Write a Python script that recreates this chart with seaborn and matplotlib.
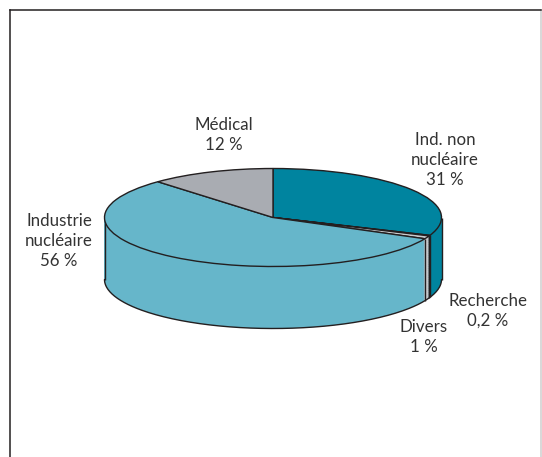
import seaborn as sns
import matplotlib.pyplot as plt
import numpy as np

categories = ['Ind. non\nnucléaire\n31 %', 'Recherche\n0,2 %', 'Divers\n1 %',
              'Industrie\nnucléaire\n56 %', 'Médical\n12 %']
shares = [31, 0.2, 1, 56, 12]
colors = sns.color_palette(['#00849f', '#231f20', '#c9cbce', '#66b6ca', '#a9acb2'])

# pixel layout of the reference
W, H = 542, 457
CX, CY = 273, 217.5
RX, RY = 168.5, 49
DEPTH = 62 / RY
LEFT, TOP, RIGHT = 10, 9.5, 541
INK = '#231f20'
label_xy = [(445, 160), (488, 311), (424, 337), (59, 241), (224, 135)]

sns.set_theme(style='white')
plt.rcParams['font.family'] = ['Lato', 'DejaVu Sans']

fig = plt.figure(figsize=(W / 100, H / 100), dpi=100)
ax = fig.add_axes([LEFT / W, 0, (RIGHT - LEFT) / W, 1 - TOP / H])


def draw_pie(y, **wedge):
    ax.pie(shares, colors=colors, startangle=90, counterclock=False,
           center=(0, y), radius=1, wedgeprops=wedge)


# side wall is a stack of the same pie going down
for y in np.linspace(-DEPTH, -0.02, 90):
    draw_pie(y, linewidth=0, zorder=1)
draw_pie(0, linewidth=1.0, edgecolor=INK, zorder=4)

ax.set_aspect('auto')
ax.set_xlim((LEFT - CX) / RX, (RIGHT - CX) / RX)
ax.set_ylim((CY - H) / RY, (CY - TOP) / RY)

# outline of the wall
t = np.linspace(np.pi, 2 * np.pi, 200)
ax.plot(np.cos(t), np.sin(t) - DEPTH, color=INK, lw=1.0, zorder=3)
ax.vlines([-1, 1], -DEPTH, 0, color=INK, lw=1.0, zorder=3)
edges = np.pi / 2 - 2 * np.pi * np.cumsum(shares) / sum(shares)
front = edges[np.sin(edges) < 0]
ax.vlines(np.cos(front), np.sin(front) - DEPTH, np.sin(front), color=INK, lw=1.0, zorder=3)

ax.set_frame_on(True)
sns.despine(ax=ax, top=False, right=False, bottom=True)
ax.spines['right'].set_color('#d4d4d4')
ax.spines['left'].set_color(INK)
ax.spines['top'].set_color(INK)
ax.spines['left'].set_linewidth(1.1)
ax.spines['top'].set_linewidth(1.1)

for text, (x, y) in zip(categories, label_xy):
    fig.text(x / W, 1 - y / H, text, ha='center', va='center', fontsize=12.2,
             color='#333333', linespacing=1.32)

fig.savefig('out.png', dpi=100)
